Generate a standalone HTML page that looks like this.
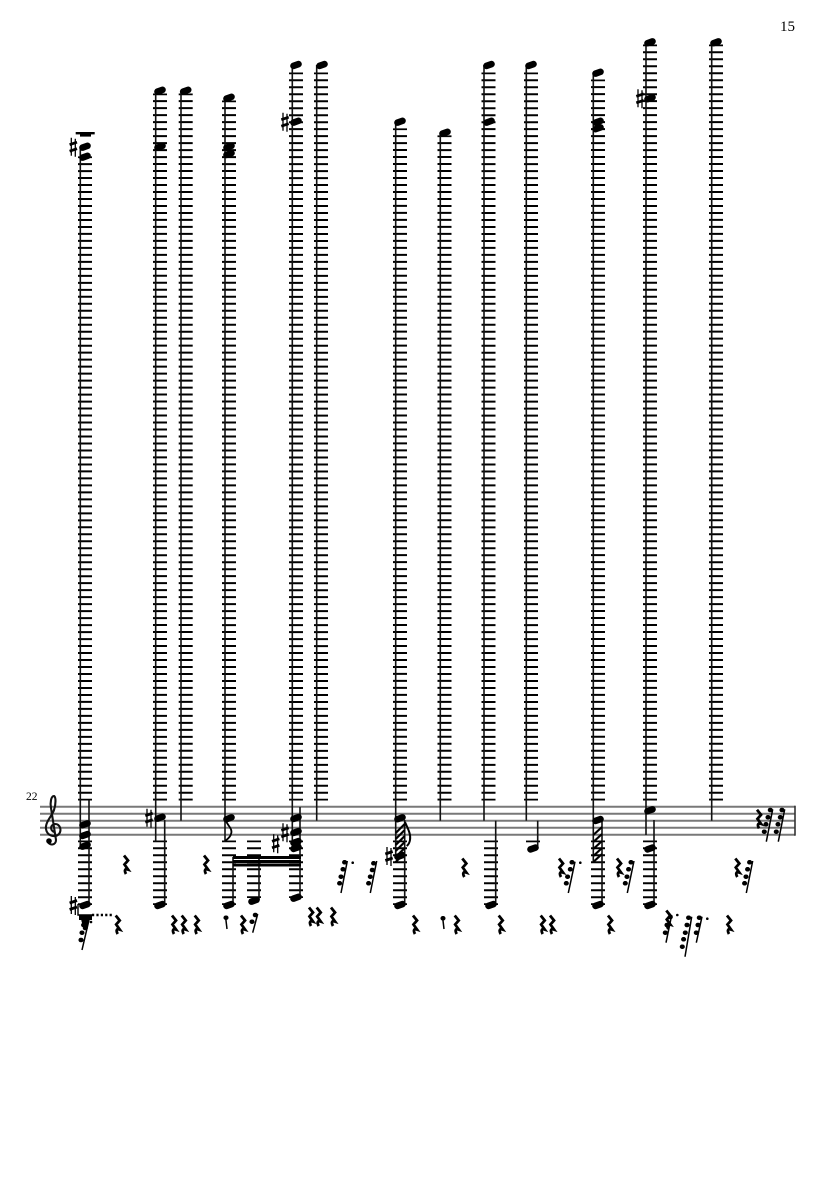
<!DOCTYPE html>
<html lang="en">
<head>
<meta charset="utf-8">
<title>Score page 15</title>
<style>
html,body{margin:0;padding:0;background:#fff}
svg{display:block}
text{font-family:"Liberation Serif",serif;fill:#000}
</style>
</head>
<body>
<svg xmlns="http://www.w3.org/2000/svg" width="835" height="1181" viewBox="0 0 835 1181">
<rect width="835" height="1181" fill="#fff"/>
<text x="780" y="31" font-size="15">15</text>
<text x="26" y="800" font-size="11.5">22</text>

<!-- staff -->
<g stroke="#787878" stroke-width="2" fill="none">
<path d="M40 806.7H795M40 813.7H795M40 820.7H795M40 827.7H795M40 834.7H795"/>
</g>
<path d="M795 805.700V835.700" stroke="#333" stroke-width="1.600"/>

<!-- upper ledger stacks -->
<g stroke="#000" stroke-width="14" fill="none" stroke-dasharray="2 4.985" stroke-dashoffset="0.25">
<path d="M85 156.35V800.5"/>
<path d="M160 93.45V800.5"/>
<path d="M185.7 93.45V800.5"/>
<path d="M229 100.45V800.5"/>
<path d="M296 72.55V800.5"/>
<path d="M321 72.55V800.5"/>
<path d="M400 128.35V800.5"/>
<path d="M444.5 135.35V800.5"/>
<path d="M488.5 72.55V800.5"/>
<path d="M531 72.55V800.5"/>
<path d="M598 79.45V800.5"/>
<path d="M650 44.55V800.5"/>
<path d="M716 44.55V800.5"/>
</g>

<!-- lower ledger stacks -->
<g stroke="#000" stroke-width="14" fill="none" stroke-dasharray="2 5" stroke-dashoffset="0.25">
<path d="M85 840.55V905"/>
<path d="M160 840.55V905"/>
<path d="M229 840.55V905"/>
<path d="M254 840.55V898"/>
<path d="M296 840.55V898"/>
<path d="M400 840.55V905"/>
<path d="M491 840.55V905"/>
<path d="M533 840.55V842.8"/>
<path d="M598 840.55V905"/>
<path d="M650 840.55V905"/>
</g>

<!-- stems -->
<path stroke="#111" stroke-width="1.600" fill="none" d="M80.3 146V845M89 800V904
M155.7 91V841.7M164.7 820V904
M181 91V820.7
M225 98V841.7M233 857V905
M259 857V900
M292.3 65V848M300 807V897
M316.7 65V820.7
M395.7 121V857M404.7 820V904
M440.3 132V820.7
M484 65V820.7M495.7 820.7V904
M526.3 65V820.7M537.7 820.7V847
M593.3 72V862M602 820V904
M646 42V835M654 820V904
M711.7 42V820.7"/>

<!-- noteheads -->
<path stroke="#000" stroke-width="6.600" stroke-linecap="round" fill="none" d="
M82.500 147.600l5-1.800M82.500 157.600l5-1.800M82.500 825.200l5-1.800M82.500 835.900l5-1.800M82.500 846.600l5-1.800M82.500 905.900l5-1.800
M157.500 91.600l5-1.800M157.500 147.600l5-1.800M157.500 818.600l5-1.800M157.500 905.900l5-1.800
M183.200 91.600l5-1.800
M226.500 98.600l5-1.800M226.500 147.600l5-1.800M226.500 154.900l5-1.800M226.500 819.200l5-1.800M226.500 905.900l5-1.800
M251.500 901.600l5-1.800
M293.500 65.900l5-1.800M293.500 122.600l5-1.800M293.500 818.900l5-1.800M293.500 832.900l5-1.800M293.500 842.900l5-1.800M293.500 848.900l5-1.800M293.500 898.600l5-1.800
M319.500 65.900l5-1.800
M397.500 122.600l5-1.800M397.500 819.200l5-1.800M397.500 856.900l5-1.800M397.500 905.900l5-1.800
M442.500 133.600l5-1.800
M486.500 65.900l5-1.800M486.500 122.600l5-1.800M488.500 905.900l5-1.800
M528.500 65.900l5-1.800M530.500 849.400l5-1.800
M595.500 73.600l5-1.800M595.500 122.600l5-1.800M595.500 129.200l5-1.800M595.500 820.900l5-1.800M595.500 905.900l5-1.800
M647.500 43.200l5-1.800M647.500 99.200l5-1.800M647.500 811.200l5-1.800M647.500 849.400l5-1.800M647.500 905.900l5-1.800
M713.500 43.200l5-1.800"/>

<!-- top bar -->
<rect x="75.7" y="132" width="19" height="2.4" fill="#000"/>
<rect x="80" y="134" width="11" height="2.6" fill="#000"/>

<!-- sharps -->
<path stroke="#000" stroke-width="1.300" fill="none" d="
M71.3 137.7v18M75.3 138.7v18
M147 808.7v18M151 809.7v18
M71.3 896v18M75.3 897v18
M283 112.7v18M287 113.7v18
M387 847v18M391 848v18
M273.7 834.3v18M277.7 835.3v18
M283 823.3v18M287 824.3v18
M638 89.3v18M642 90.3v18"/>
<path stroke="#000" stroke-width="2.800" fill="none" d="
M69.6 144.7l7.4-2.5M69.6 151.2l7.4-2.5
M145.3 815.7l7.4-2.5M145.3 822.2l7.4-2.5
M69.6 903l7.4-2.5M69.6 909.5l7.4-2.5
M281.3 119.7l7.4-2.5M281.3 126.2l7.4-2.5
M385.3 854l7.4-2.5M385.3 860.5l7.4-2.5
M272 841.3l7.4-2.5M272 847.8l7.4-2.5
M281.3 830.3l7.4-2.5M281.3 836.8l7.4-2.5
M636.3 96.3l7.4-2.5M636.3 102.8l7.4-2.5"/>

<!-- treble clef -->
<path stroke="#111" stroke-width="2.100" fill="none" d="M54 832C50 830 50 825 55 824C60 824 62 830 59 834C55 838 47 836 46 829C45 822 52 816 54 810C56 804 56 797 54 796C51 796 50 803 51 808L56 840C56 845 50 846 48 842"/>
<circle cx="49" cy="841" r="2.800" fill="#000"/>

<!-- beams -->
<rect x="233" y="856" width="68" height="3" fill="#000"/>
<rect x="233" y="860" width="68" height="3" fill="#000"/>
<rect x="233" y="863.500" width="68" height="3" fill="#000"/>

<!-- flags and hatching -->
<path stroke="#000" stroke-width="1.800" fill="none" d="M226 821C228 826 233 829 231 834C230 838 226 840 225 841"/>
<path stroke="#000" stroke-width="2" fill="none" d="M405 822C408 829 411 834 410 840C409.500 843 408 845 406.700 846"/>
<path stroke="#000" stroke-width="2.200" fill="none" d="
M395.700 833l9-9M395.700 839l9-9M395.700 845l9-9M395.700 851l9-9M395.700 857l9-9M395.700 862l9-9
M593.300 835l8.700-8M593.300 842l8.700-8M593.300 849l8.700-8M593.300 856l8.700-8M593.300 862l8.700-8"/>

<!-- bracket and dotted extender near first chord -->
<rect x="79" y="914.500" width="13" height="5.500" fill="#000"/>
<path fill="#000" d="M81 919h8l-2 8h-4z"/>
<path stroke="#000" stroke-width="1.400" fill="none" d="M78 904V915H92"/>
<path stroke="#000" stroke-width="2.400" stroke-dasharray="2.200 2.200" fill="none" d="M92 915H112"/>

<!-- quarter rests -->
<path stroke="#000" stroke-width="2.800" fill="none" d="
M124 855.500l4 5-3.500 4 3.500 5c-3-1-4 1-2 4.500
M204 855.500l4 5-3.500 4 3.500 5c-3-1-4 1-2 4.500
M115.700 915.500l4 5-3.500 4 3.500 5c-3-1-4 1-2 4.500
M172 915.500l4 5-3.500 4 3.500 5c-3-1-4 1-2 4.500
M181.700 915.500l4 5-3.500 4 3.500 5c-3-1-4 1-2 4.500
M194.700 915.500l4 5-3.500 4 3.500 5c-3-1-4 1-2 4.500
M241 915.500l4 5-3.500 4 3.500 5c-3-1-4 1-2 4.500
M309 907.500l4 5-3.500 4 3.500 5c-3-1-4 1-2 4.500
M316.700 907.500l4 5-3.500 4 3.500 5c-3-1-4 1-2 4.500
M331 907.500l4 5-3.500 4 3.500 5c-3-1-4 1-2 4.500
M413 915.500l4 5-3.500 4 3.500 5c-3-1-4 1-2 4.500
M454.700 915.500l4 5-3.500 4 3.500 5c-3-1-4 1-2 4.500
M498.700 915.500l4 5-3.500 4 3.500 5c-3-1-4 1-2 4.500
M540.700 915.500l4 5-3.500 4 3.500 5c-3-1-4 1-2 4.500
M550 915.500l4 5-3.500 4 3.500 5c-3-1-4 1-2 4.500
M608 915.500l4 5-3.500 4 3.500 5c-3-1-4 1-2 4.500
M462.300 858.500l4 5-3.500 4 3.500 5c-3-1-4 1-2 4.500
M559 858.500l4 5-3.500 4 3.500 5c-3-1-4 1-2 4.500
M617 858.500l4 5-3.500 4 3.500 5c-3-1-4 1-2 4.500
M735.300 858.500l4 5-3.500 4 3.500 5c-3-1-4 1-2 4.500
M757 809.800l4 5-3.500 4 3.500 5c-3-1-4 1-2 4.500
M666.300 910.500l4 5-3.500 4 3.500 5c-3-1-4 1-2 4.500
M727 915.500l4 5-3.500 4 3.500 5c-3-1-4 1-2 4.500"/>

<!-- slanted small rest stems -->
<path stroke="#000" stroke-width="1.500" fill="none" d="
M82 950L89 920
M227 929L225.700 918
M444 929L442.700 918
M252.700 932.700L257.700 914
M341 893L347.300 861
M370.300 893L376.700 861
M568.300 893L575 861.700
M627.300 893L634 861
M746.300 893L752.700 861
M766.300 841.700L772.700 809.300
M778.300 841.700L784.700 809.300
M666 942.700L671.700 915
M685 956.700L691.700 916.700
M696.300 942.700L702 916.700"/>

<!-- small heads -->
<path stroke="#000" stroke-width="4.500" stroke-linecap="round" fill="none" d="
M83.300 925h.6M81.700 932.700h.6M80.700 940h.6M84 921h.6M85 928h.6
M225.700 917.700h.6M442.700 918.300h.6
M251.700 921.700h.6M255 915h.6
M344.300 862.300h.6M342.700 869.300h.6M340.700 876.700h.6M339.300 883.300h.6
M373.300 863.300h.6M372 870h.6M370 876.700h.6M368.300 883.300h.6
M571.700 862.300h.6M570 869.300h.6M567.300 876.700h.6M566 883.300h.6
M630.700 862.300h.6M628.300 869.300h.6M626.700 876.700h.6M625 883.300h.6
M749.300 862.300h.6M747.300 869.300h.6M745.700 876.700h.6M744.300 883.300h.6
M770 810h.6M767.700 817.300h.6M765.700 824.300h.6M764 831.700h.6
M781.700 810h.6M780 817.300h.6M777.700 824.300h.6M776 831.700h.6
M670 917h.6M666.700 925h.6M665 932.700h.6
M688.300 917.700h.6M686.700 925h.6M685 932.700h.6M683.300 939.300h.6M682 946.700h.6
M699 917.700h.6M697.700 925h.6M696 932.700h.6"/>

<!-- augmentation dots -->
<path stroke="#000" stroke-width="2.600" stroke-linecap="round" fill="none" d="
M91 922h.01M352.700 862.700h.01M580.300 862.700h.01M677.300 915h.01M707.300 918.700h.01"/>
</svg>
</body>
</html>
